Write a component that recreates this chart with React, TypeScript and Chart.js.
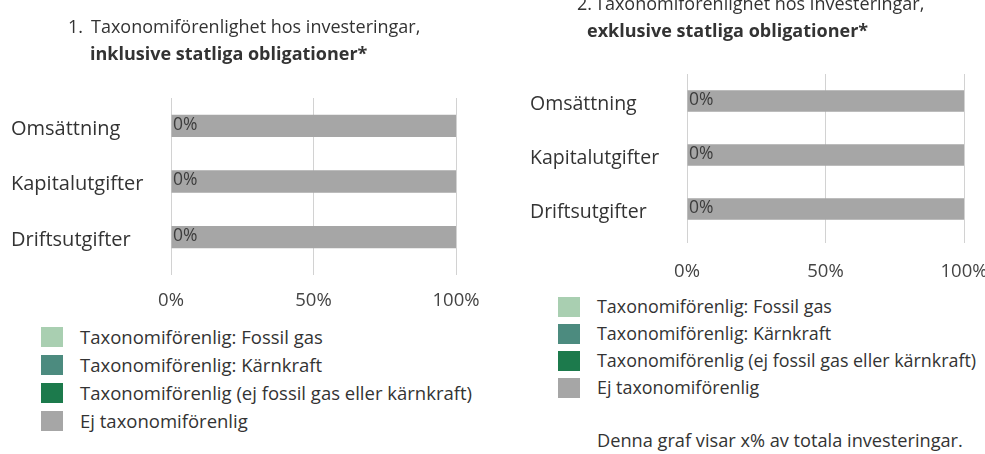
import React, { useEffect, useRef } from 'react';
import { Chart, registerables } from 'chart.js';

Chart.register(...registerables);

const FONT = "'Open Sans', 'Noto Sans', sans-serif";

// ---- data ----
const categories = ['Omsättning', 'Kapitalutgifter', 'Driftsutgifter'];
const seriesNames = [
  'Taxonomiförenlig: Fossil gas',
  'Taxonomiförenlig: Kärnkraft',
  'Taxonomiförenlig (ej fossil gas eller kärnkraft)',
  'Ej taxonomiförenlig',
];
const seriesColors = ['#a9cfb1', '#4c8b7f', '#1c7a4c', '#a6a6a6'];

// Chart 1: inklusive statliga obligationer
const inclFossilGas = [0, 0, 0];
const inclNuclear = [0, 0, 0];
const inclAligned = [0, 0, 0];
const inclNotAligned = [100, 100, 100];

// Chart 2: exklusive statliga obligationer
const exclFossilGas = [0, 0, 0];
const exclNuclear = [0, 0, 0];
const exclAligned = [0, 0, 0];
const exclNotAligned = [100, 100, 100];

const xTickValues = [0, 50, 100];

const title1Number = '1.';
const title1Line1 = 'Taxonomiförenlighet hos investeringar,';
const title1Line2 = 'inklusive statliga obligationer*';
const title2Number = '2.';
const title2Line1 = 'Taxonomiförenlighet hos investeringar,';
const title2Line2 = 'exklusive statliga obligationer*';
const footnote = 'Denna graf visar x% av totala investeringar.';

// ---- plugin drawing the aligned share label at the start of each bar ----
const percentLabelPlugin = {
  id: 'percentLabels',
  afterDatasetsDraw(chart: any, _args: any, opts: any) {
    const { ctx } = chart;
    const xScale = chart.scales.x;
    const n = chart.data.datasets.length;
    const lastMeta = chart.getDatasetMeta(n - 1);
    ctx.save();
    ctx.font = `${opts.size}px ${FONT}`;
    ctx.fillStyle = '#3d3d3d';
    ctx.textAlign = 'left';
    ctx.textBaseline = 'middle';
    chart.data.labels.forEach((_: any, i: number) => {
      let aligned = 0;
      for (let d = 0; d < n - 1; d++) aligned += chart.data.datasets[d].data[i];
      const el = lastMeta.data[i];
      ctx.fillText(`${aligned}%`, xScale.getPixelForValue(0) + 2, el.y + opts.dy);
    });
    ctx.restore();
  },
};

type Cfg = {
  values: number[][];
  padLeft: number;
  padRight: number;
  padTop: number;
  yWidth: number;
  xHeight: number;
  tickLength: number;
  tickPadding: number;
  ySize: number;
};

function makeConfig(c: Cfg): any {
  return {
    type: 'bar',
    data: {
      labels: categories,
      datasets: seriesNames.map((name, i) => ({
        label: name,
        data: c.values[i],
        backgroundColor: seriesColors[i],
        borderWidth: 0,
        barPercentage: 0.4,
        categoryPercentage: 1,
      })),
    },
    options: {
      indexAxis: 'y',
      responsive: false,
      animation: false,
      events: [],
      layout: { padding: { left: c.padLeft, right: c.padRight, top: c.padTop, bottom: 0 } },
      plugins: {
        legend: { display: false },
        title: { display: false },
        tooltip: { enabled: false },
        percentLabels: { size: 17.5, dy: -1 },
      },
      scales: {
        x: {
          stacked: true,
          min: 0,
          max: 100,
          afterBuildTicks: (s: any) => {
            s.ticks = xTickValues.map((v) => ({ value: v }));
          },
          ticks: {
            callback: (v: any) => `${v}%`,
            font: { family: FONT, size: 18.5 },
            color: '#444',
            padding: c.tickPadding,
            maxRotation: 0,
          },
          grid: { color: '#d2d2d2', lineWidth: 1, tickLength: c.tickLength, drawTicks: true },
          border: { display: false },
          afterFit: (s: any) => {
            s.height = c.xHeight;
            s.paddingLeft = 0;
            s.paddingRight = 0;
          },
        },
        y: {
          stacked: true,
          grid: { display: false },
          border: { display: false },
          ticks: {
            crossAlign: 'far',
            font: { family: FONT, size: c.ySize },
            color: '#333',
            labelOffset: 3,
          },
          afterFit: (s: any) => {
            s.width = c.yWidth;
          },
        },
      },
    },
    plugins: [percentLabelPlugin],
  };
}

function BarChart(props: { cfg: Cfg; width: number; height: number; style: React.CSSProperties }) {
  const ref = useRef<HTMLCanvasElement | null>(null);
  useEffect(() => {
    if (!ref.current) return;
    const chart = new Chart(ref.current, makeConfig(props.cfg));
    return () => chart.destroy();
  }, []);
  return <canvas ref={ref} width={props.width} height={props.height} style={{ position: 'absolute', ...props.style }} />;
}

function Legend(props: { left: number; top: number; rowH: number; textGap: number; fontSize: number }) {
  return (
    <div style={{ position: 'absolute', left: props.left, top: props.top }}>
      {seriesNames.map((name, i) => (
        <div key={name} style={{ display: 'flex', alignItems: 'center', height: props.rowH }}>
          <div style={{ width: 22, height: 20, background: seriesColors[i], flex: '0 0 auto' }} />
          <div
            style={{
              marginLeft: props.textGap,
              fontSize: props.fontSize,
              lineHeight: `${props.rowH}px`,
              color: '#333',
              whiteSpace: 'nowrap',
            }}
          >
            {name}
          </div>
        </div>
      ))}
    </div>
  );
}

const textBase: React.CSSProperties = {
  position: 'absolute',
  whiteSpace: 'nowrap',
  fontSize: 18,
  lineHeight: '24px',
  color: '#333',
};

export default function App() {
  const cfg1: Cfg = {
    values: [inclFossilGas, inclNuclear, inclAligned, inclNotAligned],
    padLeft: 11,
    padRight: 29,
    padTop: 98,
    yWidth: 160,
    xHeight: 50,
    tickLength: 10,
    tickPadding: 15,
    ySize: 20,
  };
  const cfg2: Cfg = {
    values: [exclFossilGas, exclNuclear, exclAligned, exclNotAligned],
    padLeft: 30,
    padRight: 26,
    padTop: 74,
    yWidth: 157,
    xHeight: 50,
    tickLength: 7,
    tickPadding: 18,
    ySize: 19.5,
  };
  return (
    <div
      style={{
        position: 'absolute',
        left: 0,
        top: 0,
        width: 985,
        height: 454,
        overflow: 'hidden',
        background: '#fff',
        fontFamily: FONT,
      }}
    >
      <BarChart cfg={cfg1} width={485} height={315} style={{ left: 0, top: 0 }} />
      <BarChart cfg={cfg2} width={490} height={286} style={{ left: 500, top: 0 }} />

      <div style={{ ...textBase, left: 68, top: 14 }}>{title1Number}</div>
      <div style={{ ...textBase, left: 91, top: 14 }}>{title1Line1}</div>
      <div style={{ ...textBase, left: 90, top: 41, fontWeight: 700 }}>{title1Line2}</div>

      <div style={{ ...textBase, left: 577, top: -9 }}>{title2Number}</div>
      <div style={{ ...textBase, left: 595, top: -9 }}>{title2Line1}</div>
      <div style={{ ...textBase, left: 587, top: 18, fontWeight: 700 }}>{title2Line2}</div>

      <Legend left={41} top={323} rowH={28} textGap={17} fontSize={18.5} />
      <Legend left={558} top={293} rowH={27} textGap={17} fontSize={17.9} />

      <div style={{ ...textBase, fontSize: 18.2, lineHeight: '24px', left: 597, top: 428 }}>{footnote}</div>
    </div>
  );
}
